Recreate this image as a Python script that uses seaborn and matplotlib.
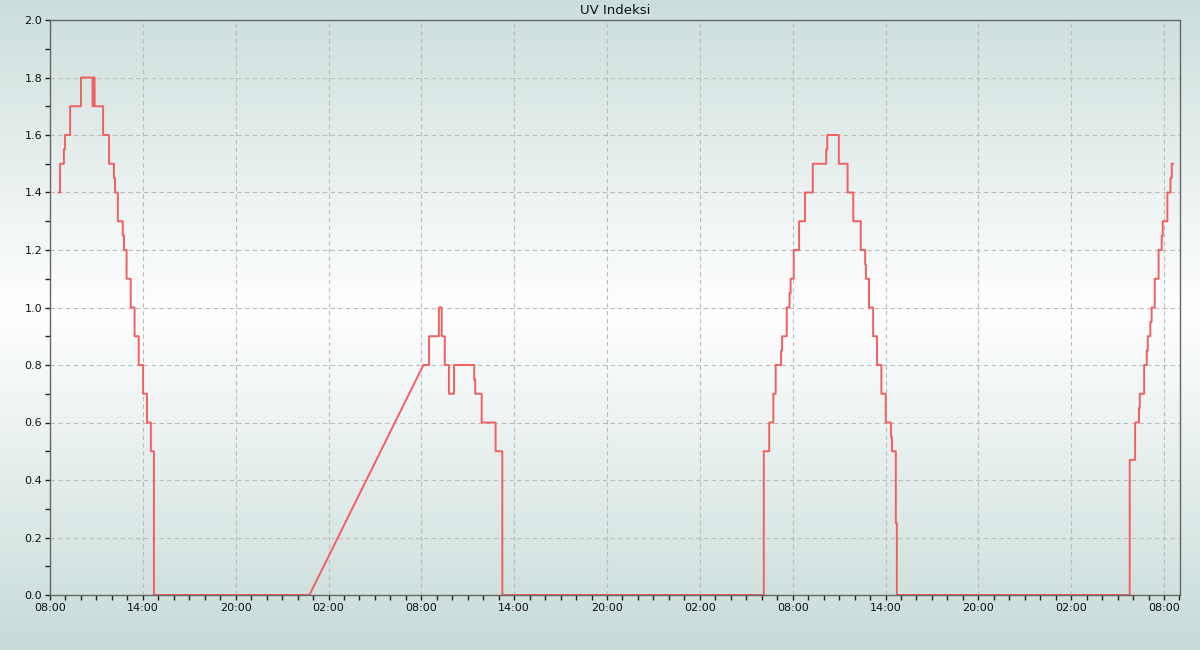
import matplotlib
matplotlib.use("Agg")
import matplotlib.pyplot as plt
import matplotlib.dates as mdates
from matplotlib.colors import LinearSegmentedColormap
import numpy as np
import pandas as pd
import seaborn as sns

# UV index readings: each list holds the times where the level changes,
# the last time of a segment is where that segment ends.
# day 1 (morning to the night gap)
seg1_times = ["2024-01-15 08:32", "08:39", "08:54", "08:58", "09:18", "10:00", "10:45",
              "10:49", "10:53", "11:26", "11:49", "12:08", "12:12", "12:23", "12:42",
              "12:47", "12:57", "13:13", "13:28", "13:44", "14:01", "14:16", "14:31",
              "14:43", "2024-01-16 00:46"]
seg1_uv = [1.4, 1.5, 1.55, 1.6, 1.7, 1.8, 1.7, 1.8, 1.7, 1.6, 1.5, 1.45, 1.4, 1.3, 1.25,
           1.2, 1.1, 1.0, 0.9, 0.8, 0.7, 0.6, 0.5, 0.0, 0.0]

# day 2 to day 4 (after the data gap)
seg2_times = ["2024-01-16 08:08", "08:30", "09:08", "09:19", "09:31", "09:47", "10:07",
              "11:25", "11:29", "11:54", "12:48", "13:14",
              "2024-01-17 06:08", "06:29", "06:45", "06:54", "07:15", "07:19", "07:37",
              "07:48", "07:52", "08:04", "08:25", "08:48", "09:18", "10:10", "10:14",
              "10:59", "11:33", "11:55", "12:24", "12:41", "12:44", "12:56", "13:12",
              "13:27", "13:44", "14:01", "14:21", "14:25", "14:40", "14:44",
              "2024-01-18 05:47", "06:08", "06:23", "06:26", "06:43", "06:53", "06:57",
              "07:07", "07:12", "07:24", "07:39", "07:51", "07:55", "08:13", "08:25",
              "08:30", "08:36"]
seg2_uv = [0.8, 0.9, 1.0, 0.9, 0.8, 0.7, 0.8, 0.75, 0.7, 0.6, 0.5, 0.0,
           0.5, 0.6, 0.7, 0.8, 0.85, 0.9, 1.0, 1.05, 1.1, 1.2, 1.3, 1.4, 1.5, 1.55, 1.6,
           1.5, 1.4, 1.3, 1.2, 1.15, 1.1, 1.0, 0.9, 0.8, 0.7, 0.6, 0.55, 0.5, 0.25, 0.0,
           0.47, 0.6, 0.65, 0.7, 0.8, 0.85, 0.9, 0.95, 1.0, 1.1, 1.2, 1.25, 1.3, 1.4, 1.45,
           1.5, 1.5]


def full_times(labels):
    out, day = [], None
    for s in labels:
        if " " in s:
            day = s.split(" ")[0]
            out.append(pd.Timestamp(s))
        else:
            out.append(pd.Timestamp(day + " " + s))
    return out


def step_path(times, vals):
    # hold each level until the next change, then jump
    xs, ys = [times[0]], [vals[0]]
    for i in range(1, len(times)):
        xs.append(times[i]); ys.append(vals[i - 1])
        xs.append(times[i]); ys.append(vals[i])
    return xs, ys


x1, y1 = step_path(full_times(seg1_times), seg1_uv)
x2, y2 = step_path(full_times(seg2_times), seg2_uv)
df = pd.DataFrame({"time": x1 + x2, "uv": y1 + y2})
df["order"] = range(len(df))

sns.set_style("ticks")
plt.rcParams["font.family"] = ["DejaVu Sans"]

fig = plt.figure(figsize=(12, 6.5), dpi=100)

# background gradient across the whole figure
bg = fig.add_axes([0, 0, 1, 1], zorder=-10)
rows = np.abs(np.arange(650) - 310) / 340.0
grad = np.tile(rows[:, None], (1, 2))
cmap = LinearSegmentedColormap.from_list("bg", ["#ffffff", "#c7dbd8"])
bg.imshow(grad, aspect="auto", cmap=cmap, vmin=0, vmax=1, extent=[0, 1, 0, 1])
bg.set_axis_off()

ax = fig.add_axes([50 / 1200, 55 / 650, 1130 / 1200, 575 / 650])
ax.set_facecolor("none")

sns.lineplot(data=df, x="time", y="uv", ax=ax, estimator=None, sort=False,
             color="#f25f5f", linewidth=1.4)

ax.set_xlim(pd.Timestamp("2024-01-15 08:00"), pd.Timestamp("2024-01-18 09:02"))
ax.set_ylim(0, 2.0)
ax.xaxis.set_major_locator(mdates.HourLocator(byhour=[2, 8, 14, 20]))
ax.xaxis.set_minor_locator(mdates.HourLocator())
ax.xaxis.set_major_formatter(mdates.DateFormatter("%H:%M"))
ax.set_yticks(np.arange(0, 2.01, 0.2))
ax.set_yticks(np.arange(0, 2.01, 0.1), minor=True)
ax.yaxis.set_major_formatter(matplotlib.ticker.FormatStrFormatter("%.1f"))

ax.grid(True, which="major", color="#bbbbbb", linestyle=(0, (4, 3)), linewidth=0.8)
ax.tick_params(which="both", direction="out", length=3.5, width=1, color="#222222",
               labelsize=8, labelcolor="#111111", pad=2)
for sp in ax.spines.values():
    sp.set_color("#666666")
    sp.set_linewidth(1)
    sp.set_visible(True)

ax.set_xlabel("")
ax.set_ylabel("")
ax.set_title("UV Indeksi", fontsize=9.5, pad=4, color="#111111")

fig.savefig("out.png", dpi=100)
